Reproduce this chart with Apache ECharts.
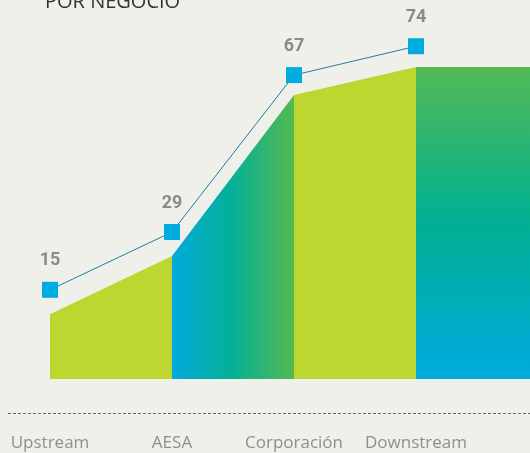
<!DOCTYPE html>
<html>
<head>
<meta charset="utf-8">
<script src="https://cdn.jsdelivr.net/npm/echarts@6/dist/echarts.min.js"></script>
<style>
html,body{margin:0;padding:0;background:#f0f0eb;}
#c{width:530px;height:453px;}
</style>
</head>
<body>
<div id="c"></div>
<script>
const categories = ['Upstream', 'AESA', 'Corporación', 'Downstream', ''];
const values = [15, 29, 67, 74];
const areaTops = [9.1, 23.2, 62.2, 69.0, 69.0];
const titleText = 'POR NEGOCIO';

function seg(i) {
  return areaTops.map((v, k) => (k === i || k === i + 1) ? v : null);
}

const lime = '#bed730';
const G = echarts.graphic.LinearGradient;

const chart = echarts.init(document.getElementById('c'), null, {renderer: 'canvas'});
chart.setOption({
  backgroundColor: '#f0f0eb',
  animation: false,
  grid: {left: 50, top: 0, width: 488, height: 379, outerBoundsMode: 'none', containLabel: false},
  xAxis: {
    type: 'category', data: categories, boundaryGap: false,
    axisLine: {show: false}, axisTick: {show: false}, splitLine: {show: false},
    axisLabel: {margin: 56, color: '#8e8e8e', fontSize: 17, fontFamily: 'Open Sans', interval: 0}
  },
  yAxis: {type: 'value', min: -6.6, max: 85.2, show: false, splitLine: {show: false}},
  graphic: [
    {type: 'line', shape: {x1: 8, y1: 413.5, x2: 530, y2: 413.5}, style: {stroke: '#666', lineWidth: 1, lineDash: [3, 2]}, silent: true},
    {type: 'text', x: 45, y: 12, style: {text: titleText, fill: '#333', font: '20px "Open Sans"', textVerticalAlign: 'bottom'}}
  ],
  series: [
    {type: 'line', data: seg(0), showSymbol: false, lineStyle: {width: 0}, areaStyle: {color: lime, opacity: 1, origin: 'start'}, z: 1},
    {type: 'line', data: seg(1), showSymbol: false, lineStyle: {width: 0}, areaStyle: {opacity: 1, origin: 'start', color: new G(0, 0, 1, 0, [
      {offset: 0, color: '#00aadc'}, {offset: 0.5, color: '#06b095'}, {offset: 1, color: '#55b950'}])}, z: 1},
    {type: 'line', data: seg(2), showSymbol: false, lineStyle: {width: 0}, areaStyle: {color: lime, opacity: 1, origin: 'start'}, z: 1},
    {type: 'line', data: seg(3), showSymbol: false, lineStyle: {width: 0}, areaStyle: {opacity: 1, origin: 'start', color: new G(0, 0, 0, 1, [
      {offset: 0, color: '#53b955'}, {offset: 0.5, color: '#00b093'}, {offset: 1, color: '#00aadf'}])}, z: 1},
    {
      type: 'line', data: values, symbol: 'rect', symbolSize: 16, showAllSymbol: true,
      lineStyle: {color: '#1f7fa6', width: 1}, itemStyle: {color: '#00acdf'},
      label: {show: true, position: 'top', distance: 12, color: '#8a8a8a', fontSize: 18, fontWeight: 'bold', fontFamily: 'Roboto'},
      z: 3
    }
  ]
});
</script>
</body>
</html>
